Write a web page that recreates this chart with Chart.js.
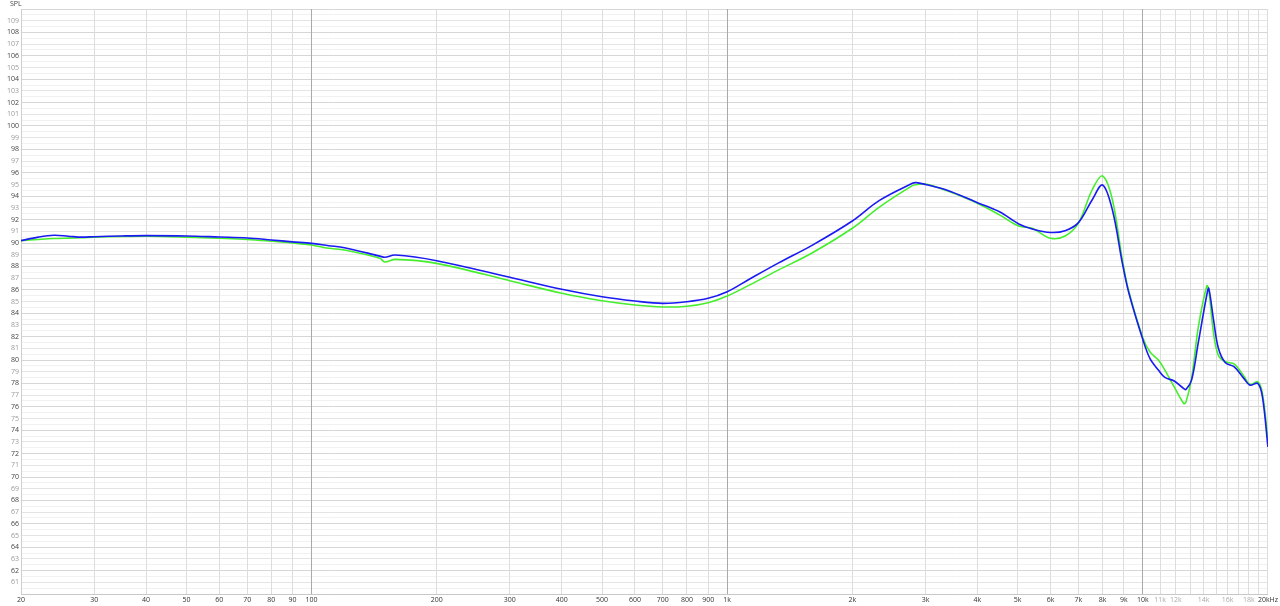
<!DOCTYPE html>
<html>
<head>
<meta charset="utf-8">
<script src="https://cdn.jsdelivr.net/npm/chart.js@4/dist/chart.umd.min.js"></script>
<style>
  html, body { margin: 0; padding: 0; background: #ffffff; }
  #wrap { width: 1280px; height: 606px; }
</style>
</head>
<body>
<div id="wrap"><canvas id="c" width="1280" height="606"></canvas></div>
<script>
// ---- data ----
const freqHz = [20, 22, 24, 26, 28, 30, 35, 40, 50, 60, 70, 80, 90, 100, 110, 120, 146, 150, 159, 200, 300, 400, 500, 600, 700, 800, 900, 1000, 1130, 1330, 1600, 2000, 2320, 2790, 2850, 3000, 3370, 4000, 4520, 5030, 5420, 6000, 6500, 7000, 7550, 8000, 8450, 8930, 9260, 10000, 10400, 10900, 11300, 11900, 12550, 12700, 13100, 13600, 14260, 14410, 14800, 15200, 15800, 16600, 17500, 18100, 18900, 19400, 20000];
const blueSPL = [90.2, 90.5, 90.66, 90.58, 90.5, 90.54, 90.6, 90.63, 90.6, 90.51, 90.43, 90.26, 90.1, 89.97, 89.77, 89.6, 88.88, 88.78, 88.97, 88.49, 87.07, 86.04, 85.4, 85.04, 84.84, 84.98, 85.27, 85.83, 86.9, 88.3, 89.8, 91.88, 93.62, 95.1, 95.16, 95.0, 94.53, 93.45, 92.67, 91.63, 91.2, 90.9, 91.05, 91.74, 93.68, 94.96, 92.82, 88.26, 85.7, 81.75, 80.14, 79.14, 78.51, 78.2, 77.56, 77.48, 78.28, 81.5, 85.6, 86.12, 83.4, 81.0, 79.76, 79.42, 78.43, 77.85, 78.0, 76.85, 72.57];
const greenSPL = [90.2, 90.3, 90.38, 90.42, 90.45, 90.5, 90.55, 90.58, 90.5, 90.4, 90.3, 90.15, 90.0, 89.83, 89.55, 89.4, 88.7, 88.38, 88.6, 88.26, 86.78, 85.7, 85.06, 84.7, 84.53, 84.6, 84.9, 85.47, 86.4, 87.7, 89.15, 91.26, 93.05, 94.9, 94.98, 95.05, 94.48, 93.4, 92.4, 91.45, 91.26, 90.4, 90.6, 91.7, 94.53, 95.73, 93.68, 88.54, 85.83, 81.9, 80.7, 80.0, 79.14, 77.7, 76.28, 76.4, 78.4, 82.8, 86.34, 86.0, 82.27, 80.4, 79.85, 79.65, 78.63, 77.9, 78.14, 77.13, 73.15];
const xTickValues = [20, 30, 40, 50, 60, 70, 80, 90, 100, 200, 300, 400, 500, 600, 700, 800, 900, 1000, 2000, 3000, 4000, 5000, 6000, 7000, 8000, 9000, 10000, 11000, 12000, 13000, 14000, 15000, 16000, 17000, 18000, 19000, 20000];
const xTickLabels = ['20', '30', '40', '50', '60', '70', '80', '90', '100', '200', '300', '400', '500', '600', '700', '800', '900', '1k', '2k', '3k', '4k', '5k', '6k', '7k', '8k', '9k', '10k', '11k', '12k', '', '14k', '', '16k', '', '18k', '', '20kHz'];
const xFaintLabels = ['11k', '12k', '14k', '16k', '18k'];
const yMin = 60, yMax = 110, yStep = 0.5;
const axisTitle = 'SPL';

// ---- chart ----
const FONT = "'Open Sans', 'DejaVu Sans', sans-serif";
const labelOf = {};
xTickValues.forEach((v, i) => { labelOf[v] = xTickLabels[i]; });

const yTicks = [];
for (let v = yMin; v <= yMax + 1e-9; v += yStep) yTicks.push(Math.round(v * 10) / 10);

const splTitle = {
  id: 'splTitle',
  afterDraw(chart) {
    const ctx = chart.ctx;
    ctx.save();
    ctx.font = '7px ' + FONT;
    ctx.fillStyle = '#444';
    ctx.textBaseline = 'middle';
    ctx.textAlign = 'left';
    ctx.fillText(axisTitle, 10, 4);
    ctx.restore();
  }
};

new Chart(document.getElementById('c'), {
  type: 'line',
  data: {
    datasets: [
      {
        label: 'blue',
        data: freqHz.map((f, i) => ({ x: f, y: blueSPL[i] })),
        borderColor: '#1a1af2',
        borderWidth: 1.6,
        pointRadius: 0,
        tension: 0.35,
        fill: false
      },
      {
        label: 'green',
        data: freqHz.map((f, i) => ({ x: f, y: greenSPL[i] })),
        borderColor: '#46ee2e',
        borderWidth: 1.6,
        pointRadius: 0,
        tension: 0.35,
        fill: false
      }
    ]
  },
  options: {
    responsive: false,
    animation: false,
    events: [],
    layout: { padding: { top: 9, right: 10, left: 0, bottom: 0 } },
    plugins: { legend: { display: false }, tooltip: { enabled: false }, title: { display: false } },
    scales: {
      x: {
        type: 'logarithmic',
        min: 20,
        max: 20000,
        afterBuildTicks(scale) { scale.ticks = xTickValues.map(v => ({ value: v })); },
        afterFit(scale) { scale.height = 12; },
        ticks: {
          autoSkip: false,
          maxRotation: 0,
          minRotation: 0,
          padding: 2,
          font: { size: 7, family: FONT },
          color(ctx) {
            const l = labelOf[ctx.tick.value];
            return xFaintLabels.includes(l) ? '#aaaaaa' : '#333333';
          },
          callback(value) { return labelOf[value] !== undefined ? labelOf[value] : ''; }
        },
        grid: {
          drawTicks: false,
          lineWidth: 1,
          z: -1,
          color(ctx) {
            const v = ctx.tick && ctx.tick.value;
            return (v === 100 || v === 1000 || v === 10000) ? '#a9a9a9' : '#dddddd';
          }
        },
        border: { color: '#c8c8c8' }
      },
      y: {
        type: 'linear',
        min: yMin,
        max: yMax,
        afterBuildTicks(scale) { scale.ticks = yTicks.map(v => ({ value: v })); },
        afterFit(scale) { scale.width = 21; },
        ticks: {
          autoSkip: false,
          padding: 2,
          font: { size: 7, family: FONT },
          color(ctx) {
            const v = ctx.tick.value;
            return (Math.round(v) % 2 === 0) ? '#444444' : '#999999';
          },
          callback(value) {
            if (value === yMin || value === yMax) return '';
            return Number.isInteger(value) ? String(value) : '';
          }
        },
        grid: {
          drawTicks: false,
          lineWidth: 1,
          z: -2,
          color(ctx) {
            const v = ctx.tick && ctx.tick.value;
            if (v === undefined) return '#e6e6e6';
            if (!Number.isInteger(v)) return '#f1f1f1';
            return (v % 2 === 0) ? '#d6d6d6' : '#e4e4e4';
          }
        },
        border: { color: '#cfcfcf' }
      }
    }
  },
  plugins: [splTitle]
});
</script>
</body>
</html>
